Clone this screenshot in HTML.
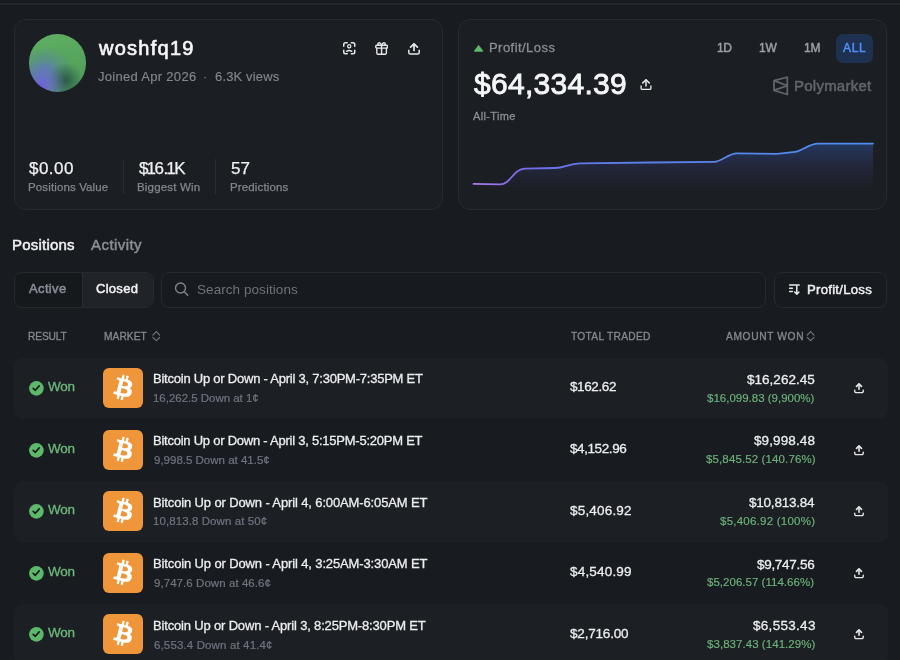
<!DOCTYPE html>
<html><head><meta charset="utf-8"><title>woshfq19 - Polymarket</title>
<style>
*{box-sizing:border-box;margin:0;padding:0}
html,body{width:900px;height:660px;overflow:hidden;background:#181b1f;font-family:"Liberation Sans",Arial,sans-serif;color:#f0f1f3}
.a{position:absolute;white-space:nowrap;line-height:1.15;will-change:transform}
.topline{position:absolute;left:0;top:3px;width:900px;height:2px;background:#24272c}
.card{position:absolute;top:19px;height:191px;border:1px solid #272a2f;border-radius:12px;background:#1b1e22}
.avatar{position:absolute;left:28.5px;top:34.3px;width:57.5px;height:57.5px;border-radius:50%;
 background:radial-gradient(circle at 20% 90%,#6e60e4 0%,rgba(110,96,228,.6) 15%,rgba(110,96,228,0) 38%),radial-gradient(circle at 64% 80%,#2b5a46 0%,rgba(43,90,70,0) 30%),radial-gradient(ellipse at 30% 58%,rgba(90,130,165,.9) 0%,rgba(90,130,165,0) 45%),linear-gradient(170deg,#5fb063 0%,#57a55d 45%,#4f995c 100%)}
.sep{position:absolute;top:159px;width:1px;height:35px;background:#2a2d33}
.seg{position:absolute;left:14px;top:272px;width:140px;height:36px;border:1px solid #26292e;border-radius:8px;overflow:hidden;background:#16191c}
.seg i{position:absolute;left:67px;top:0;width:72px;height:100%;background:#202328;border-left:1px solid #2a2d32}
.search{position:absolute;left:161px;top:272px;width:605px;height:36px;border:1px solid #26292e;border-radius:8px;background:#171a1e}
.sortbtn{position:absolute;left:774px;top:272px;width:113px;height:36px;border:1px solid #26292e;border-radius:8px;background:#171a1e}
.allbtn{position:absolute;left:836px;top:34px;width:37px;height:29px;border-radius:7px;background:#1e3150}
.row{position:absolute;left:14px;width:874px;height:61px;border-radius:8px}
.row.alt{background:#1c1f24}
.btc{position:absolute;width:40px;height:40px;border-radius:6px;background:#ef963a}
.ic svg{display:block}

</style></head>
<body>
<div class="topline"></div>
<div class="card" style="left:14px;width:429px"></div>
<div class="card" style="left:458px;width:429px"></div>
<div class="avatar"></div>
<svg class="a" style="left:342.5px;top:42px" width="12.5" height="12.5" viewBox="0 0 12.5 12.5" fill="none" stroke="#e6e7e9" stroke-width="1.5" stroke-linecap="round" stroke-linejoin="round"><path d="M0.75 4.2V2.5A1.75 1.75 0 0 1 2.5 0.75H4.2M8.3 0.75H10A1.75 1.75 0 0 1 11.75 2.5V4.2M11.75 8.3V10A1.75 1.75 0 0 1 10 11.75H8.3M4.2 11.75H2.5A1.75 1.75 0 0 1 0.75 10V8.3"/><circle cx="6.2" cy="4.3" r="1.6" stroke-width="1.3"/><path d="M3.6 9.4Q6.2 7.6 8.8 9.4" stroke-width="1.3"/></svg>
<svg class="a" style="left:374.8px;top:42px" width="13.2" height="12.8" viewBox="0 0 13.2 12.8" fill="none" stroke="#e6e7e9" stroke-width="1.4" stroke-linecap="round" stroke-linejoin="round"><rect x="0.75" y="3.3" width="11.7" height="2.8" rx="1"/><path d="M1.8 6.1V11a1.2 1.2 0 0 0 1.2 1.2H10.2a1.2 1.2 0 0 0 1.2-1.2V6.1M6.6 3.3V12.2"/><path d="M6.6 3.2C5.8 1.4 4.6 0.6 3.6 0.9C2.5 1.3 2.6 3 3.8 3.2M6.6 3.2C7.4 1.4 8.6 0.6 9.6 0.9C10.7 1.3 10.6 3 9.4 3.2"/></svg>
<svg class="a" style="left:407.8px;top:42.7px" width="12" height="12" viewBox="0 0 12 12" fill="none" stroke="#e6e7e9" stroke-linecap="round" stroke-linejoin="round"><path d="M2.6 4.1L6 0.8 9.4 4.1" stroke-width="1.7"/><path d="M6 1.1V7.4" stroke-width="1.7"/><path d="M0.8 7.3V9.4a1.6 1.6 0 0 0 1.6 1.6H9.6a1.6 1.6 0 0 0 1.6-1.6V7.3" stroke-width="1.5"/></svg>
<div class="sep" style="left:123px"></div>
<div class="sep" style="left:215px"></div>
<svg class="a" style="left:473px;top:44px" width="11" height="9" viewBox="473 44 11 9"><path d="M478.6 45.8L482.6 51.1H474.6Z" fill="#5cb86a" stroke="#5cb86a" stroke-width="1.3" stroke-linejoin="round"/></svg>
<svg class="a" style="left:639.6px;top:79px" width="12" height="11" viewBox="0 0 12 11.6" fill="none" stroke="#e6e7e9" stroke-linecap="round" stroke-linejoin="round"><path d="M2.6 4.1L6 0.8 9.4 4.1" stroke-width="1.6"/><path d="M6 1.1V7.4" stroke-width="1.6"/><path d="M0.8 7.3V9.4a1.6 1.6 0 0 0 1.6 1.6H9.6a1.6 1.6 0 0 0 1.6-1.6V7.3" stroke-width="1.4"/></svg>
<div class="allbtn"></div>
<svg class="a" style="left:772px;top:76px" width="17" height="20" viewBox="772 76 17 20" fill="none" stroke="#5f636b" stroke-width="1.8" stroke-linejoin="round"><path d="M774 80.6L787.3 77.1V94.5L774 90.4Z M774 80.6L787.3 85.6L774 90.4"/></svg>
<svg class="a" style="left:459px;top:120px" width="428" height="89" viewBox="459 120 428 89">
 <defs><linearGradient id="fillg" x1="0" y1="143" x2="0" y2="192" gradientUnits="userSpaceOnUse"><stop offset="0" stop-color="#2f5cb0" stop-opacity=".45"/><stop offset=".5" stop-color="#3a3f80" stop-opacity=".25"/><stop offset="1" stop-color="#3a3f80" stop-opacity="0"/></linearGradient>
 <linearGradient id="lineg" x1="473" y1="0" x2="873" y2="0" gradientUnits="userSpaceOnUse"><stop offset="0" stop-color="#ad7de2"/><stop offset=".07" stop-color="#9070e6"/><stop offset=".14" stop-color="#716bea"/><stop offset=".3" stop-color="#5f7ce9"/><stop offset="1" stop-color="#4f8ef0"/></linearGradient></defs>
 <path d="M473.5 183.9 L500 184.3 C511 184.3 513 168.8 525 168.6 L555 168 C565 168 568 163.5 580 163.3 L650 162.5 L714 161.8 C722 161.8 728 153.4 737 153.4 L777 153.9 L793 152.2 C802 152 808 143.6 818 143.6 L873 143.6 L873 200 L473 200 Z" fill="url(#fillg)"/>
 <path d="M473.5 183.9 L500 184.3 C511 184.3 513 168.8 525 168.6 L555 168 C565 168 568 163.5 580 163.3 L650 162.5 L714 161.8 C722 161.8 728 153.4 737 153.4 L777 153.9 L793 152.2 C802 152 808 143.6 818 143.6 L873 143.6" fill="none" stroke="url(#lineg)" stroke-width="1.8" stroke-linecap="round"/>
</svg>
<div class="seg"><i></i></div>
<div class="search"></div>
<svg class="a" style="left:174px;top:282px" width="16" height="15" viewBox="174 282 16 15" fill="none" stroke="#80858d" stroke-width="1.4" stroke-linecap="round"><circle cx="180.5" cy="288" r="5"/><path d="M184.3 291.8L187.8 295.2"/></svg>
<div class="sortbtn"></div>
<svg class="a" style="left:788px;top:283px" width="13" height="13" viewBox="788 283 13 13" fill="none" stroke="#e6e7e9" stroke-width="1.5" stroke-linecap="round" stroke-linejoin="round"><path d="M789.6 285H799.2M789.6 288.3H792.4M789.6 291.5H792.4M796.8 286.2V294M794.7 292L796.8 294.1L798.9 292"/></svg>
<svg class="a" style="left:152px;top:331px" width="8" height="11" viewBox="152 331 8 11" fill="none" stroke="#72767e" stroke-width="1.2" stroke-linecap="round" stroke-linejoin="round"><path d="M152.9 335.1L156.3 331.6L159.7 335.1M152.9 337.4L156.3 340.6L159.7 337.4"/></svg>
<svg class="a" style="left:806px;top:331px" width="10" height="11" viewBox="806 331 10 11" fill="none" stroke="#72767e" stroke-width="1.2" stroke-linecap="round" stroke-linejoin="round"><path d="M807.2 335.1L810.6 331.6L814 335.1M807.2 337.4L810.6 340.6L814 337.4"/></svg>

<div class="row alt" style="top:358.0px"></div>
<div class="a ic" style="left:28.7px;top:381.0px"><svg width="15" height="15" viewBox="0 0 15 15"><circle cx="7.4" cy="7.4" r="7.3" fill="#5cb96a"/><path d="M4.2 7.4L6.3 9.3 10.2 4.9" fill="none" stroke="#15181c" stroke-width="1.7" stroke-linecap="round" stroke-linejoin="round"/></svg></div>
<div class="btc" style="left:103px;top:368.0px"><svg width="40" height="40" viewBox="0 0 40 40"><g transform="translate(20.6 19.8) scale(0.63) translate(-32.3 -32.1)"><path fill="#fff" d="M46.11 27.441c.636-4.258-2.606-6.547-7.039-8.074l1.438-5.768-3.512-.875-1.4 5.616c-.922-.23-1.87-.447-2.812-.662l1.41-5.653-3.509-.875-1.439 5.766c-.764-.174-1.514-.346-2.242-.527l.004-.018-4.842-1.209-.934 3.75s2.605.597 2.55.634c1.422.355 1.68 1.296 1.636 2.042l-1.638 6.571c.098.025.225.061.365.117l-.37-.092-2.297 9.205c-.174.432-.615 1.08-1.609.834.035.051-2.552-.637-2.552-.637l-1.743 4.02 4.57 1.139c.85.213 1.682.436 2.502.646l-1.453 5.835 3.507.875 1.44-5.772c.957.26 1.887.5 2.797.726L27.504 50.8l3.511.875 1.453-5.823c5.987 1.133 10.49.676 12.383-4.738 1.527-4.36-.075-6.875-3.225-8.516 2.294-.531 4.022-2.04 4.483-5.157zM38.087 38.69c-1.086 4.36-8.426 2.004-10.807 1.412l1.928-7.729c2.38.594 10.011 1.77 8.88 6.317zm1.085-11.312c-.99 3.966-7.1 1.951-9.083 1.457l1.748-7.01c1.983.494 8.367 1.416 7.335 5.553z"/></g></svg></div>
<div class="a ic" style="left:853.9px;top:382.9px"><svg width="10" height="10.5" viewBox="0 0 10 10.5" fill="none" stroke="#e6e7e9" stroke-linecap="round" stroke-linejoin="round"><path d="M2.5 3.4L5 0.9 7.5 3.4" stroke-width="1.6"/><path d="M5 1.2V6.3" stroke-width="1.6"/><path d="M0.75 7.2V8.3a1.3 1.3 0 0 0 1.3 1.3H7.95a1.3 1.3 0 0 0 1.3-1.3V7.2" stroke-width="1.4"/></svg></div>
<div class="row" style="top:419.6px"></div>
<div class="a ic" style="left:28.7px;top:442.6px"><svg width="15" height="15" viewBox="0 0 15 15"><circle cx="7.4" cy="7.4" r="7.3" fill="#5cb96a"/><path d="M4.2 7.4L6.3 9.3 10.2 4.9" fill="none" stroke="#15181c" stroke-width="1.7" stroke-linecap="round" stroke-linejoin="round"/></svg></div>
<div class="btc" style="left:103px;top:429.6px"><svg width="40" height="40" viewBox="0 0 40 40"><g transform="translate(20.6 19.8) scale(0.63) translate(-32.3 -32.1)"><path fill="#fff" d="M46.11 27.441c.636-4.258-2.606-6.547-7.039-8.074l1.438-5.768-3.512-.875-1.4 5.616c-.922-.23-1.87-.447-2.812-.662l1.41-5.653-3.509-.875-1.439 5.766c-.764-.174-1.514-.346-2.242-.527l.004-.018-4.842-1.209-.934 3.75s2.605.597 2.55.634c1.422.355 1.68 1.296 1.636 2.042l-1.638 6.571c.098.025.225.061.365.117l-.37-.092-2.297 9.205c-.174.432-.615 1.08-1.609.834.035.051-2.552-.637-2.552-.637l-1.743 4.02 4.57 1.139c.85.213 1.682.436 2.502.646l-1.453 5.835 3.507.875 1.44-5.772c.957.26 1.887.5 2.797.726L27.504 50.8l3.511.875 1.453-5.823c5.987 1.133 10.49.676 12.383-4.738 1.527-4.36-.075-6.875-3.225-8.516 2.294-.531 4.022-2.04 4.483-5.157zM38.087 38.69c-1.086 4.36-8.426 2.004-10.807 1.412l1.928-7.729c2.38.594 10.011 1.77 8.88 6.317zm1.085-11.312c-.99 3.966-7.1 1.951-9.083 1.457l1.748-7.01c1.983.494 8.367 1.416 7.335 5.553z"/></g></svg></div>
<div class="a ic" style="left:853.9px;top:444.5px"><svg width="10" height="10.5" viewBox="0 0 10 10.5" fill="none" stroke="#e6e7e9" stroke-linecap="round" stroke-linejoin="round"><path d="M2.5 3.4L5 0.9 7.5 3.4" stroke-width="1.6"/><path d="M5 1.2V6.3" stroke-width="1.6"/><path d="M0.75 7.2V8.3a1.3 1.3 0 0 0 1.3 1.3H7.95a1.3 1.3 0 0 0 1.3-1.3V7.2" stroke-width="1.4"/></svg></div>
<div class="row alt" style="top:481.2px"></div>
<div class="a ic" style="left:28.7px;top:504.2px"><svg width="15" height="15" viewBox="0 0 15 15"><circle cx="7.4" cy="7.4" r="7.3" fill="#5cb96a"/><path d="M4.2 7.4L6.3 9.3 10.2 4.9" fill="none" stroke="#15181c" stroke-width="1.7" stroke-linecap="round" stroke-linejoin="round"/></svg></div>
<div class="btc" style="left:103px;top:491.2px"><svg width="40" height="40" viewBox="0 0 40 40"><g transform="translate(20.6 19.8) scale(0.63) translate(-32.3 -32.1)"><path fill="#fff" d="M46.11 27.441c.636-4.258-2.606-6.547-7.039-8.074l1.438-5.768-3.512-.875-1.4 5.616c-.922-.23-1.87-.447-2.812-.662l1.41-5.653-3.509-.875-1.439 5.766c-.764-.174-1.514-.346-2.242-.527l.004-.018-4.842-1.209-.934 3.75s2.605.597 2.55.634c1.422.355 1.68 1.296 1.636 2.042l-1.638 6.571c.098.025.225.061.365.117l-.37-.092-2.297 9.205c-.174.432-.615 1.08-1.609.834.035.051-2.552-.637-2.552-.637l-1.743 4.02 4.57 1.139c.85.213 1.682.436 2.502.646l-1.453 5.835 3.507.875 1.44-5.772c.957.26 1.887.5 2.797.726L27.504 50.8l3.511.875 1.453-5.823c5.987 1.133 10.49.676 12.383-4.738 1.527-4.36-.075-6.875-3.225-8.516 2.294-.531 4.022-2.04 4.483-5.157zM38.087 38.69c-1.086 4.36-8.426 2.004-10.807 1.412l1.928-7.729c2.38.594 10.011 1.77 8.88 6.317zm1.085-11.312c-.99 3.966-7.1 1.951-9.083 1.457l1.748-7.01c1.983.494 8.367 1.416 7.335 5.553z"/></g></svg></div>
<div class="a ic" style="left:853.9px;top:506.09999999999997px"><svg width="10" height="10.5" viewBox="0 0 10 10.5" fill="none" stroke="#e6e7e9" stroke-linecap="round" stroke-linejoin="round"><path d="M2.5 3.4L5 0.9 7.5 3.4" stroke-width="1.6"/><path d="M5 1.2V6.3" stroke-width="1.6"/><path d="M0.75 7.2V8.3a1.3 1.3 0 0 0 1.3 1.3H7.95a1.3 1.3 0 0 0 1.3-1.3V7.2" stroke-width="1.4"/></svg></div>
<div class="row" style="top:542.8px"></div>
<div class="a ic" style="left:28.7px;top:565.8px"><svg width="15" height="15" viewBox="0 0 15 15"><circle cx="7.4" cy="7.4" r="7.3" fill="#5cb96a"/><path d="M4.2 7.4L6.3 9.3 10.2 4.9" fill="none" stroke="#15181c" stroke-width="1.7" stroke-linecap="round" stroke-linejoin="round"/></svg></div>
<div class="btc" style="left:103px;top:552.8px"><svg width="40" height="40" viewBox="0 0 40 40"><g transform="translate(20.6 19.8) scale(0.63) translate(-32.3 -32.1)"><path fill="#fff" d="M46.11 27.441c.636-4.258-2.606-6.547-7.039-8.074l1.438-5.768-3.512-.875-1.4 5.616c-.922-.23-1.87-.447-2.812-.662l1.41-5.653-3.509-.875-1.439 5.766c-.764-.174-1.514-.346-2.242-.527l.004-.018-4.842-1.209-.934 3.75s2.605.597 2.55.634c1.422.355 1.68 1.296 1.636 2.042l-1.638 6.571c.098.025.225.061.365.117l-.37-.092-2.297 9.205c-.174.432-.615 1.08-1.609.834.035.051-2.552-.637-2.552-.637l-1.743 4.02 4.57 1.139c.85.213 1.682.436 2.502.646l-1.453 5.835 3.507.875 1.44-5.772c.957.26 1.887.5 2.797.726L27.504 50.8l3.511.875 1.453-5.823c5.987 1.133 10.49.676 12.383-4.738 1.527-4.36-.075-6.875-3.225-8.516 2.294-.531 4.022-2.04 4.483-5.157zM38.087 38.69c-1.086 4.36-8.426 2.004-10.807 1.412l1.928-7.729c2.38.594 10.011 1.77 8.88 6.317zm1.085-11.312c-.99 3.966-7.1 1.951-9.083 1.457l1.748-7.01c1.983.494 8.367 1.416 7.335 5.553z"/></g></svg></div>
<div class="a ic" style="left:853.9px;top:567.6999999999999px"><svg width="10" height="10.5" viewBox="0 0 10 10.5" fill="none" stroke="#e6e7e9" stroke-linecap="round" stroke-linejoin="round"><path d="M2.5 3.4L5 0.9 7.5 3.4" stroke-width="1.6"/><path d="M5 1.2V6.3" stroke-width="1.6"/><path d="M0.75 7.2V8.3a1.3 1.3 0 0 0 1.3 1.3H7.95a1.3 1.3 0 0 0 1.3-1.3V7.2" stroke-width="1.4"/></svg></div>
<div class="row alt" style="top:604.4px"></div>
<div class="a ic" style="left:28.7px;top:627.4px"><svg width="15" height="15" viewBox="0 0 15 15"><circle cx="7.4" cy="7.4" r="7.3" fill="#5cb96a"/><path d="M4.2 7.4L6.3 9.3 10.2 4.9" fill="none" stroke="#15181c" stroke-width="1.7" stroke-linecap="round" stroke-linejoin="round"/></svg></div>
<div class="btc" style="left:103px;top:614.4px"><svg width="40" height="40" viewBox="0 0 40 40"><g transform="translate(20.6 19.8) scale(0.63) translate(-32.3 -32.1)"><path fill="#fff" d="M46.11 27.441c.636-4.258-2.606-6.547-7.039-8.074l1.438-5.768-3.512-.875-1.4 5.616c-.922-.23-1.87-.447-2.812-.662l1.41-5.653-3.509-.875-1.439 5.766c-.764-.174-1.514-.346-2.242-.527l.004-.018-4.842-1.209-.934 3.75s2.605.597 2.55.634c1.422.355 1.68 1.296 1.636 2.042l-1.638 6.571c.098.025.225.061.365.117l-.37-.092-2.297 9.205c-.174.432-.615 1.08-1.609.834.035.051-2.552-.637-2.552-.637l-1.743 4.02 4.57 1.139c.85.213 1.682.436 2.502.646l-1.453 5.835 3.507.875 1.44-5.772c.957.26 1.887.5 2.797.726L27.504 50.8l3.511.875 1.453-5.823c5.987 1.133 10.49.676 12.383-4.738 1.527-4.36-.075-6.875-3.225-8.516 2.294-.531 4.022-2.04 4.483-5.157zM38.087 38.69c-1.086 4.36-8.426 2.004-10.807 1.412l1.928-7.729c2.38.594 10.011 1.77 8.88 6.317zm1.085-11.312c-.99 3.966-7.1 1.951-9.083 1.457l1.748-7.01c1.983.494 8.367 1.416 7.335 5.553z"/></g></svg></div>
<div class="a ic" style="left:853.9px;top:629.3px"><svg width="10" height="10.5" viewBox="0 0 10 10.5" fill="none" stroke="#e6e7e9" stroke-linecap="round" stroke-linejoin="round"><path d="M2.5 3.4L5 0.9 7.5 3.4" stroke-width="1.6"/><path d="M5 1.2V6.3" stroke-width="1.6"/><path d="M0.75 7.2V8.3a1.3 1.3 0 0 0 1.3 1.3H7.95a1.3 1.3 0 0 0 1.3-1.3V7.2" stroke-width="1.4"/></svg></div>
<div class="a" id="uname" style="left:98.8px;top:37px;font-size:20px;font-weight:400;color:#f5f6f7;letter-spacing:1.258px;-webkit-text-stroke:.65px">woshfq19</div>
<div class="a" id="joined" style="left:98.0px;top:70px;font-size:13px;font-weight:400;color:#82878f;letter-spacing:0.299px;-webkit-text-stroke:.15px">Joined Apr 2026</div>
<div class="a" id="dot" style="left:203px;top:70px;font-size:13px;font-weight:400;color:#82878f;letter-spacing:0px;">&middot;</div>
<div class="a" id="views" style="left:215.0px;top:70px;font-size:13px;font-weight:400;color:#82878f;letter-spacing:0.15px;-webkit-text-stroke:.15px">6.3K views</div>
<div class="a" id="v0" style="left:28.5px;top:158.5px;font-size:17px;font-weight:400;color:#f0f1f3;letter-spacing:0.45px;-webkit-text-stroke:.25px">$0.00</div>
<div class="a" id="l0" style="left:27.5px;top:181px;font-size:11.5px;font-weight:400;color:#82878f;letter-spacing:0.129px;-webkit-text-stroke:.25px">Positions Value</div>
<div class="a" id="v1" style="left:138.6px;top:158.5px;font-size:17px;font-weight:400;color:#f0f1f3;letter-spacing:-0.486px;-webkit-text-stroke:.25px">$<span style="letter-spacing:-1.5px;margin-left:-1.5px">1</span>6.<span style="letter-spacing:-1.5px;margin-left:-1.5px">1</span>K</div>
<div class="a" id="l1" style="left:137.0px;top:181px;font-size:11.5px;font-weight:400;color:#82878f;letter-spacing:0.18px;-webkit-text-stroke:.25px">Biggest Win</div>
<div class="a" id="v2" style="left:230.5px;top:158.5px;font-size:17px;font-weight:400;color:#f0f1f3;letter-spacing:-0.0px;-webkit-text-stroke:.25px">57</div>
<div class="a" id="l2" style="left:229.5px;top:181px;font-size:11.5px;font-weight:400;color:#82878f;letter-spacing:0.135px;-webkit-text-stroke:.25px">Predictions</div>
<div class="a" id="pl" style="left:489.0px;top:41px;font-size:13px;font-weight:400;color:#898e96;letter-spacing:0.45px;-webkit-text-stroke:.3px">Profit/Loss</div>
<div class="a" id="big" style="left:473.8px;top:66.8px;font-size:30px;font-weight:400;color:#f5f6f7;letter-spacing:0.28px;-webkit-text-stroke:.85px">$64,334.39</div>
<div class="a" id="alltime" style="left:473.0px;top:109.5px;font-size:11px;font-weight:400;color:#898e96;letter-spacing:0.337px;-webkit-text-stroke:.3px">All-Time</div>
<div class="a" id="p1d" style="left:716.6px;top:42px;font-size:12px;font-weight:400;color:#9a9ea5;letter-spacing:-0.3px;-webkit-text-stroke:.5px">1D</div>
<div class="a" id="p1w" style="left:758.5px;top:42px;font-size:12px;font-weight:400;color:#9a9ea5;letter-spacing:-0.2px;-webkit-text-stroke:.5px">1W</div>
<div class="a" id="p1m" style="left:803.8px;top:42px;font-size:12px;font-weight:400;color:#9a9ea5;letter-spacing:-0.1px;-webkit-text-stroke:.5px">1M</div>
<div class="a" id="pall" style="left:843.2px;top:42px;font-size:12px;font-weight:400;color:#4d8ff5;letter-spacing:0.72px;-webkit-text-stroke:.5px">ALL</div>
<div class="a" id="poly" style="left:794.4px;top:77px;font-size:15px;font-weight:400;color:#61656d;letter-spacing:0.24px;-webkit-text-stroke:.55px">Polymarket</div>
<div class="a" id="tpos" style="left:12.2px;top:236px;font-size:15px;font-weight:400;color:#f0f1f3;letter-spacing:0.206px;-webkit-text-stroke:.5px">Positions</div>
<div class="a" id="tact" style="left:90.8px;top:236px;font-size:15px;font-weight:400;color:#898e96;letter-spacing:0.436px;-webkit-text-stroke:.5px">Activity</div>
<div class="a" id="sact" style="left:28.8px;top:282px;font-size:13px;font-weight:400;color:#898e96;letter-spacing:0.36px;-webkit-text-stroke:.5px">Active</div>
<div class="a" id="sclo" style="left:96.2px;top:282px;font-size:13px;font-weight:400;color:#f0f1f3;letter-spacing:0.288px;-webkit-text-stroke:.5px">Closed</div>
<div class="a" id="srch" style="left:197.0px;top:282px;font-size:13.5px;font-weight:400;color:#6e737b;letter-spacing:0.06px;">Search positions</div>
<div class="a" id="sort" style="left:806.9px;top:282.3px;font-size:13.2px;font-weight:400;color:#f0f1f3;letter-spacing:0.243px;-webkit-text-stroke:.45px">Profit/Loss</div>
<div class="a" id="hres" style="left:28px;top:330.8px;font-size:10.2px;font-weight:400;color:#858a92;letter-spacing:-0.12px;-webkit-text-stroke:.3px">RESULT</div>
<div class="a" id="hmkt" style="left:103.5px;top:330.8px;font-size:10.2px;font-weight:400;color:#858a92;letter-spacing:0.06px;-webkit-text-stroke:.3px">MARKET</div>
<div class="a" id="htt" style="left:571.0px;top:330.8px;font-size:10.2px;font-weight:400;color:#858a92;letter-spacing:0.299px;-webkit-text-stroke:.3px">TOTAL TRADED</div>
<div class="a" id="hamt" style="left:725.5px;top:330.8px;font-size:10.2px;font-weight:400;color:#858a92;letter-spacing:0.65px;-webkit-text-stroke:.3px">AMOUNT WON</div>
<div class="a" id="won0" style="left:48px;top:379.0px;font-size:13.5px;font-weight:400;color:#6cb87a;letter-spacing:-0.225px;-webkit-text-stroke:.3px">Won</div>
<div class="a" id="title0" style="left:153px;top:372.3px;font-size:13px;font-weight:400;color:#eceef0;letter-spacing:-0.23px;-webkit-text-stroke:.3px">Bitcoin Up or Down - April 3, 7:30PM-7:35PM ET</div>
<div class="a" id="sub0" style="left:153px;top:392.2px;font-size:11.5px;font-weight:400;color:#6f7580;letter-spacing:-0.025px;-webkit-text-stroke:.2px">16,262.5 Down at 1&cent;</div>
<div class="a" id="tt0" style="left:570.2px;top:379.3px;font-size:13.5px;font-weight:400;color:#eceef0;letter-spacing:-0.39px;-webkit-text-stroke:.3px">$162.62</div>
<div class="a" id="amt0" style="right:85.0px;top:371.8px;font-size:13.5px;font-weight:400;color:#eceef0;letter-spacing:0.02px;-webkit-text-stroke:.3px">$16,262.45</div>
<div class="a" id="pct0" style="right:86.0px;top:391.6px;font-size:11.5px;font-weight:400;color:#6db37a;letter-spacing:-0.0px;-webkit-text-stroke:.15px">$16,099.83 (9,900%)</div>
<div class="a" id="won1" style="left:48px;top:440.6px;font-size:13.5px;font-weight:400;color:#6cb87a;letter-spacing:-0.225px;-webkit-text-stroke:.3px">Won</div>
<div class="a" id="title1" style="left:153px;top:433.90000000000003px;font-size:13px;font-weight:400;color:#eceef0;letter-spacing:-0.24px;-webkit-text-stroke:.3px">Bitcoin Up or Down - April 3, 5:15PM-5:20PM ET</div>
<div class="a" id="sub1" style="left:154px;top:453.8px;font-size:11.5px;font-weight:400;color:#6f7580;letter-spacing:0.0px;-webkit-text-stroke:.2px">9,998.5 Down at 41.5&cent;</div>
<div class="a" id="tt1" style="left:570px;top:440.90000000000003px;font-size:13.5px;font-weight:400;color:#eceef0;letter-spacing:-0.413px;-webkit-text-stroke:.3px">$4,152.96</div>
<div class="a" id="amt1" style="right:84.60000000000002px;top:433.40000000000003px;font-size:13.5px;font-weight:400;color:#eceef0;letter-spacing:0.113px;-webkit-text-stroke:.3px">$9,998.48</div>
<div class="a" id="pct1" style="right:84.5px;top:453.20000000000005px;font-size:11.5px;font-weight:400;color:#6db37a;letter-spacing:0.125px;-webkit-text-stroke:.15px">$5,845.52 (140.76%)</div>
<div class="a" id="won2" style="left:48px;top:502.2px;font-size:13.5px;font-weight:400;color:#6cb87a;letter-spacing:-0.225px;-webkit-text-stroke:.3px">Won</div>
<div class="a" id="title2" style="left:153px;top:495.5px;font-size:13px;font-weight:400;color:#eceef0;letter-spacing:-0.13px;-webkit-text-stroke:.3px">Bitcoin Up or Down - April 4, 6:00AM-6:05AM ET</div>
<div class="a" id="sub2" style="left:153px;top:515.4px;font-size:11.5px;font-weight:400;color:#6f7580;letter-spacing:0.079px;-webkit-text-stroke:.2px">10,813.8 Down at 50&cent;</div>
<div class="a" id="tt2" style="left:570px;top:502.5px;font-size:13.5px;font-weight:400;color:#eceef0;letter-spacing:0.186px;-webkit-text-stroke:.3px">$5,406.92</div>
<div class="a" id="amt2" style="right:85.60000000000002px;top:495.0px;font-size:13.5px;font-weight:400;color:#eceef0;letter-spacing:-0.22px;-webkit-text-stroke:.3px">$10,813.84</div>
<div class="a" id="pct2" style="right:84.5px;top:514.8px;font-size:11.5px;font-weight:400;color:#6db37a;letter-spacing:0.24px;-webkit-text-stroke:.15px">$5,406.92 (100%)</div>
<div class="a" id="won3" style="left:48px;top:563.8px;font-size:13.5px;font-weight:400;color:#6cb87a;letter-spacing:-0.225px;-webkit-text-stroke:.3px">Won</div>
<div class="a" id="title3" style="left:153px;top:557.0999999999999px;font-size:13px;font-weight:400;color:#eceef0;letter-spacing:-0.13px;-webkit-text-stroke:.3px">Bitcoin Up or Down - April 4, 3:25AM-3:30AM ET</div>
<div class="a" id="sub3" style="left:154px;top:577.0px;font-size:11.5px;font-weight:400;color:#6f7580;letter-spacing:0.06px;-webkit-text-stroke:.2px">9,747.6 Down at 46.6&cent;</div>
<div class="a" id="tt3" style="left:570px;top:564.0999999999999px;font-size:13.5px;font-weight:400;color:#eceef0;letter-spacing:0.186px;-webkit-text-stroke:.3px">$4,540.99</div>
<div class="a" id="amt3" style="right:85.60000000000002px;top:556.5999999999999px;font-size:13.5px;font-weight:400;color:#eceef0;letter-spacing:-0.3px;-webkit-text-stroke:.3px">$9,747.56</div>
<div class="a" id="pct3" style="right:85.5px;top:576.4px;font-size:11.5px;font-weight:400;color:#6db37a;letter-spacing:0.025px;-webkit-text-stroke:.15px">$5,206.57 (114.66%)</div>
<div class="a" id="won4" style="left:48px;top:625.4px;font-size:13.5px;font-weight:400;color:#6cb87a;letter-spacing:-0.225px;-webkit-text-stroke:.3px">Won</div>
<div class="a" id="title4" style="left:153px;top:618.6999999999999px;font-size:13px;font-weight:400;color:#eceef0;letter-spacing:-0.17px;-webkit-text-stroke:.3px">Bitcoin Up or Down - April 3, 8:25PM-8:30PM ET</div>
<div class="a" id="sub4" style="left:154px;top:638.6px;font-size:11.5px;font-weight:400;color:#6f7580;letter-spacing:0.135px;-webkit-text-stroke:.2px">6,553.4 Down at 41.4&cent;</div>
<div class="a" id="tt4" style="left:570px;top:625.6999999999999px;font-size:13.5px;font-weight:400;color:#eceef0;letter-spacing:-0.186px;-webkit-text-stroke:.3px">$2,716.00</div>
<div class="a" id="amt4" style="right:84.60000000000002px;top:618.1999999999999px;font-size:13.5px;font-weight:400;color:#eceef0;letter-spacing:0.295px;-webkit-text-stroke:.3px">$6,553.43</div>
<div class="a" id="pct4" style="right:84.5px;top:638.0px;font-size:11.5px;font-weight:400;color:#6db37a;letter-spacing:0.05px;-webkit-text-stroke:.15px">$3,837.43 (141.29%)</div>
</body></html>
